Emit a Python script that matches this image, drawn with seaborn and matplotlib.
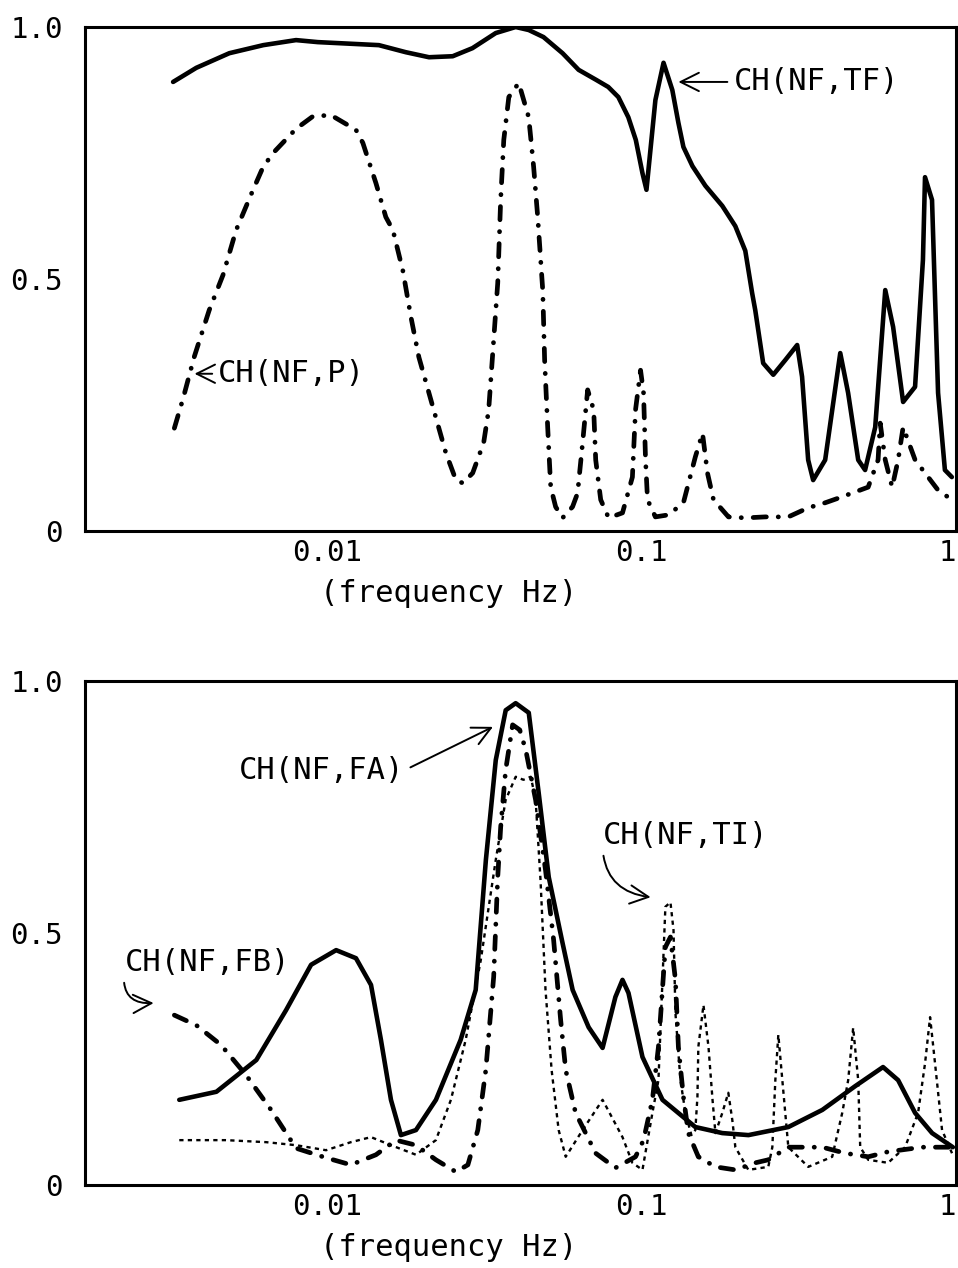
import numpy as np
import pandas as pd
import matplotlib
matplotlib.use("Agg")
import matplotlib.pyplot as plt
import seaborn as sns

# ---------------- data ----------------
# Upper panel: coherence of NF with TF and with P
tf_freq = [0.00324, 0.00384, 0.00489, 0.00627, 0.00797, 0.00935, 0.01462, 0.0178,
           0.0211, 0.0251, 0.0290, 0.0344, 0.0398, 0.0438, 0.0488, 0.0561, 0.0631,
           0.0718, 0.0784, 0.0844, 0.0908, 0.0959, 0.1007, 0.1037, 0.1107, 0.1175,
           0.1253, 0.131, 0.1359, 0.1452, 0.1596, 0.1807, 0.1987, 0.2138, 0.2248,
           0.230, 0.2437, 0.2624, 0.2864, 0.3126, 0.324, 0.3388, 0.3514, 0.3837,
           0.4285, 0.4539, 0.4887, 0.514, 0.5535, 0.5957, 0.631, 0.679, 0.741,
           0.785, 0.797, 0.839, 0.857, 0.877, 0.922, 0.970]
tf_coh = [0.891, 0.919, 0.948, 0.964, 0.974, 0.970, 0.964, 0.950,
          0.940, 0.942, 0.958, 0.988, 1.0, 0.994, 0.980, 0.948, 0.915,
          0.895, 0.881, 0.861, 0.821, 0.776, 0.710, 0.677, 0.855, 0.929,
          0.875, 0.810, 0.762, 0.724, 0.685, 0.645, 0.605, 0.556, 0.472,
          0.438, 0.333, 0.310, 0.339, 0.369, 0.306, 0.141, 0.101, 0.141,
          0.353, 0.274, 0.141, 0.121, 0.206, 0.478, 0.405, 0.256, 0.286,
          0.538, 0.702, 0.657, 0.472, 0.274, 0.121, 0.107]

p_freq = [0.00327, 0.00349, 0.00378, 0.00422, 0.00467, 0.00514, 0.00582, 0.00626,
          0.00674, 0.00797, 0.00903, 0.0103, 0.01236, 0.0130, 0.01431, 0.01538,
          0.0162, 0.01743, 0.01848, 0.01959, 0.02171, 0.02387, 0.0257, 0.02704,
          0.02905, 0.03148, 0.03266, 0.03388, 0.0349, 0.03566, 0.03648, 0.03785,
          0.0407, 0.04378, 0.0454, 0.04677, 0.04852, 0.0492, 0.05031, 0.05144,
          0.05333, 0.0561, 0.06035, 0.06262, 0.06497, 0.06742, 0.07047, 0.07151,
          0.07418, 0.0786, 0.087, 0.09355, 0.0957, 0.0993, 0.1015, 0.103, 0.1045,
          0.1107, 0.1218, 0.1359, 0.1483, 0.1563, 0.1621, 0.1694, 0.189, 0.2138,
          0.2475, 0.293, 0.3388, 0.3837, 0.4218, 0.5256, 0.5652, 0.574, 0.5957,
          0.6266, 0.6546, 0.679, 0.7413, 0.877, 0.9703]
p_coh = [0.204, 0.264, 0.345, 0.438, 0.508, 0.597, 0.677, 0.722,
         0.750, 0.798, 0.823, 0.825, 0.796, 0.770, 0.690, 0.623,
         0.597, 0.516, 0.425, 0.345, 0.246, 0.155, 0.101, 0.095,
         0.115, 0.175, 0.240, 0.379, 0.492, 0.657, 0.776, 0.861,
         0.889, 0.821, 0.722, 0.623, 0.478, 0.339, 0.206, 0.087,
         0.048, 0.026, 0.048, 0.075, 0.175, 0.280, 0.240, 0.141,
         0.062, 0.026, 0.036, 0.107, 0.240, 0.319, 0.274, 0.141, 0.062,
         0.028, 0.032, 0.056, 0.147, 0.194, 0.115, 0.062, 0.028, 0.026,
         0.028, 0.028, 0.046, 0.056, 0.065, 0.087, 0.141, 0.214, 0.141,
         0.087, 0.141, 0.206, 0.141, 0.081, 0.062]

# Lower panel: coherence of NF with FA, FB and TI
fa_freq = [0.00339, 0.00445, 0.00596, 0.00741, 0.0089, 0.01069, 0.01236, 0.0138,
           0.01484, 0.01597, 0.01718, 0.01918, 0.0222, 0.0266, 0.0297, 0.0320,
           0.0344, 0.0370, 0.0398, 0.0438, 0.0471, 0.0507, 0.0561, 0.0604, 0.0679,
           0.0752, 0.0826, 0.0870, 0.0909, 0.1007, 0.1166, 0.1483, 0.1807, 0.2188,
           0.2930, 0.3758, 0.4777, 0.5861, 0.6546, 0.7413, 0.8395, 0.9772]
fa_coh = [0.169, 0.185, 0.248, 0.347, 0.437, 0.466, 0.450, 0.397,
          0.288, 0.169, 0.099, 0.109, 0.169, 0.288, 0.387, 0.645,
          0.843, 0.942, 0.956, 0.937, 0.778, 0.611, 0.480, 0.387, 0.313,
          0.272, 0.373, 0.407, 0.381, 0.254, 0.169, 0.115, 0.103, 0.099,
          0.115, 0.149, 0.196, 0.234, 0.208, 0.143, 0.103, 0.075]

fb_freq = [0.00327, 0.00384, 0.0046, 0.00553, 0.00664, 0.00797, 0.00993, 0.01191,
           0.01431, 0.01656, 0.01918, 0.02219, 0.0257, 0.02805, 0.03016, 0.03198,
           0.03388, 0.0349, 0.03566, 0.03698, 0.03892, 0.041, 0.04285, 0.04606,
           0.04952, 0.05255, 0.05533, 0.05741, 0.06172, 0.07151, 0.08262, 0.0957,
           0.1015, 0.1083, 0.1132, 0.1191, 0.1236, 0.1282, 0.131, 0.1359, 0.1409,
           0.1516, 0.1718, 0.1988, 0.23, 0.253, 0.293, 0.3758, 0.4451, 0.526,
           0.6084, 0.7798, 0.9772]
fb_coh = [0.337, 0.317, 0.278, 0.218, 0.149, 0.073, 0.054, 0.040,
          0.060, 0.089, 0.079, 0.050, 0.026, 0.040, 0.109, 0.228,
          0.413, 0.611, 0.710, 0.823, 0.913, 0.903, 0.863, 0.764,
          0.625, 0.486, 0.327, 0.228, 0.143, 0.063, 0.034, 0.056,
          0.089, 0.169, 0.274, 0.472, 0.492, 0.407, 0.274, 0.175, 0.103,
          0.056, 0.036, 0.030, 0.044, 0.050, 0.075, 0.075, 0.063, 0.056,
          0.066, 0.075, 0.075]

ti_freq = [0.00339, 0.00477, 0.0064, 0.00797, 0.00993, 0.01191, 0.0138, 0.01597,
           0.01918, 0.02219, 0.02477, 0.0276, 0.03082, 0.0344, 0.03698, 0.03981,
           0.04213, 0.04446, 0.04606, 0.04774, 0.04952, 0.05178, 0.05452, 0.05741,
           0.06497, 0.07521, 0.087, 0.09355, 0.1007, 0.1083, 0.1132, 0.1166,
           0.1191, 0.1236, 0.1264, 0.1282, 0.133, 0.1379, 0.1441, 0.1483, 0.1506,
           0.1516, 0.1574, 0.1633, 0.1682, 0.1718, 0.1807, 0.1888, 0.1944, 0.1988,
           0.2186, 0.253, 0.2606, 0.2664, 0.2723, 0.2804, 0.293, 0.339, 0.404,
           0.4347, 0.4541, 0.471, 0.4887, 0.4959, 0.5258, 0.6084, 0.6888, 0.7576,
           0.7974, 0.8272, 0.8575, 0.9029, 0.9712]
ti_coh = [0.089, 0.089, 0.085, 0.079, 0.069, 0.085, 0.095, 0.079,
          0.060, 0.089, 0.169, 0.288, 0.446, 0.645, 0.764, 0.810,
          0.804, 0.810, 0.764, 0.605, 0.387, 0.228, 0.109, 0.056,
          0.109, 0.169, 0.095, 0.044, 0.030, 0.143, 0.208, 0.407,
          0.552, 0.561, 0.506, 0.341, 0.208, 0.143, 0.099, 0.109, 0.175,
          0.274, 0.357, 0.274, 0.169, 0.103, 0.143, 0.183, 0.129, 0.075,
          0.030, 0.036, 0.075, 0.208, 0.298, 0.208, 0.075, 0.036, 0.056,
          0.143, 0.208, 0.312, 0.208, 0.075, 0.050, 0.044, 0.075, 0.143,
          0.242, 0.333, 0.242, 0.109, 0.063]

x_major = [0.005, 0.01, 0.05, 0.1, 0.5, 1.0]
x_major_labels = ["", "0.01", "", "0.1", "", "1"]
x_minor = [0.006, 0.007, 0.008, 0.009, 0.02, 0.03, 0.04, 0.06, 0.07, 0.08, 0.09,
           0.2, 0.3, 0.4, 0.6, 0.7, 0.8, 0.9]
y_ticks = [0.0, 0.5, 1.0]
y_tick_labels = ["0", "0.5", "1.0"]
x_title = "(frequency Hz)"

# ---------------- style ----------------
sns.set_style("white")
plt.rcParams["font.family"] = ["DejaVu Sans Mono", "DejaVu Sans"]
plt.rcParams["axes.linewidth"] = 2.2
plt.rcParams["text.color"] = "black"
plt.rcParams["axes.labelcolor"] = "black"
plt.rcParams["xtick.color"] = "black"
plt.rcParams["ytick.color"] = "black"

W, H = 958, 1268
fig = plt.figure(figsize=(W / 100, H / 100), dpi=100)
fig.patch.set_facecolor("white")

ax_left, ax_right = 85 / W, 956 / W
top_ax = fig.add_axes([ax_left, 1 - 531 / H, ax_right - ax_left, 504 / H])
bot_ax = fig.add_axes([ax_left, 1 - 1185 / H, ax_right - ax_left, 504 / H])

SOLID = dict(color="black", lw=3.3, solid_capstyle="round", solid_joinstyle="round")
DASHDOT = dict(color="black", lw=3.4)
DOTTED = dict(color="black", lw=1.7)


def draw(ax, f, v, kind):
    df = pd.DataFrame({"f": f, "v": v})
    if kind == "solid":
        sns.lineplot(data=df, x="f", y="v", ax=ax, sort=False, estimator=None, **SOLID)
    elif kind == "dashdot":
        sns.lineplot(data=df, x="f", y="v", ax=ax, sort=False, estimator=None, **DASHDOT)
        ln = ax.lines[-1]
        ln.set_dashes((2.8, 2.5, 0.05, 2.5))
        ln.set_dash_capstyle("round")
        ln.set_dash_joinstyle("round")
    else:
        sns.lineplot(data=df, x="f", y="v", ax=ax, sort=False, estimator=None, **DOTTED)
        ln = ax.lines[-1]
        ln.set_dashes((1.8, 1.8))


def style_axis(ax):
    ax.set_xscale("log")
    ax.set_xlim(0.0017, 1.0)
    ax.set_ylim(0, 1.0)
    ax.set_xticks(x_major)
    ax.set_xticklabels(x_major_labels)
    ax.set_xticks(x_minor, minor=True)
    ax.set_yticks(y_ticks)
    ax.set_yticklabels(y_tick_labels)
    ax.tick_params(axis="x", which="major", direction="in", length=15, width=2.2,
                   labelsize=21, pad=6, colors="black")
    ax.tick_params(axis="x", which="minor", direction="in", length=4.5, width=1.6,
                   colors="black")
    ax.tick_params(axis="y", which="major", direction="in", length=16, width=2.2,
                   labelsize=21, pad=16, colors="black")
    for sp in ax.spines.values():
        sp.set_color("black")
        sp.set_linewidth(2.2)
    ax.set_xlabel(x_title, fontsize=22, color="black")
    ax.xaxis.set_label_coords(0.417, -0.095)
    ax.set_ylabel("")
    # mid-decade ticks (0.005, 0.05, 0.5) are shorter than the decade ticks
    for val, tk in zip(x_major, ax.xaxis.get_major_ticks()):
        if val in (0.005, 0.05, 0.5):
            tk.tick1line.set_markersize(10)
    # the "1" at the right end sits against the frame edge
    ax.get_xticklabels()[-1].set_horizontalalignment("right")


# ---------------- upper panel ----------------
draw(top_ax, tf_freq, tf_coh, "solid")
draw(top_ax, p_freq, p_coh, "dashdot")
style_axis(top_ax)

arrow_kw = dict(arrowstyle="->,head_length=0.6,head_width=0.3", color="black", lw=1.4,
                shrinkA=2, shrinkB=0)
top_ax.annotate("CH(NF,TF)", xy=(0.131, 0.891), xytext=(0.196, 0.891),
                ha="left", va="center", fontsize=22, arrowprops=arrow_kw)
top_ax.annotate("CH(NF,P)", xy=(0.00379, 0.312), xytext=(0.00451, 0.312),
                ha="left", va="center", fontsize=22, arrowprops=arrow_kw)

# ---------------- lower panel ----------------
draw(bot_ax, fa_freq, fa_coh, "solid")
draw(bot_ax, fb_freq, fb_coh, "dashdot")
draw(bot_ax, ti_freq, ti_coh, "dotted")
style_axis(bot_ax)

bot_ax.annotate("CH(NF,FA)", xy=(0.0337, 0.909), xytext=(0.00526, 0.823),
                ha="left", va="center", fontsize=22,
                arrowprops=dict(arrow_kw, relpos=(1.0, 0.5)))
bot_ax.annotate("CH(NF,TI)", xy=(0.1069, 0.571), xytext=(0.0752, 0.694),
                ha="left", va="center", fontsize=22,
                arrowprops=dict(arrow_kw, relpos=(0.0, 0.3),
                                connectionstyle="arc3,rad=0.45"))
bot_ax.annotate("CH(NF,FB)", xy=(0.00281, 0.361), xytext=(0.00227, 0.442),
                ha="left", va="center", fontsize=22,
                arrowprops=dict(arrow_kw, relpos=(0.0, 0.2),
                                connectionstyle="arc3,rad=0.6"))

fig.savefig("out.png", dpi=100, facecolor="white")
